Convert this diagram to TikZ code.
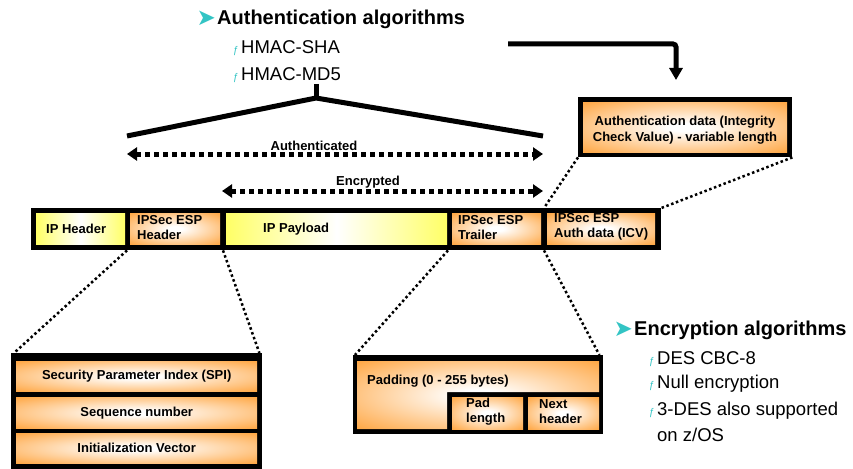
\documentclass[tikz,border=0pt]{standalone}
\usepackage{fontspec}
\setmainfont{Liberation Sans}
\newfontfamily\dejavu{DejaVu Sans}
\usetikzlibrary{arrows.meta,calc}
\definecolor{orng}{HTML}{FFA035}
\definecolor{yllw}{HTML}{FFFF66}
\definecolor{tealb}{HTML}{33C4C4}
\pgfdeclareradialshading{glowO}{\pgfpointorigin}{color(0bp)=(white); color(4bp)=(white); color(38bp)=(orng); color(75bp)=(orng)}
\begin{document}
\begin{tikzpicture}[x=1pt,y=-1pt,
  blk/.style={fill=black, inner sep=0pt, anchor=north west},
  cellY/.style={inner sep=0pt, anchor=north west, left color=yllw, right color=yllw, middle color=white},
  cellO/.style={inner sep=0pt, anchor=north west, shade, shading=glowO},
  lbl/.style={font=\fontsize{13}{15}\selectfont\bfseries, align=left, inner sep=0pt},
  clbl/.style={font=\fontsize{13}{16}\selectfont\bfseries, align=center, inner sep=0pt},
  head/.style={font=\fontsize{20}{24}\selectfont\bfseries, inner sep=0pt, anchor=west},
  sub/.style={font=\fontsize{18.5}{24}\selectfont, inner sep=0pt, anchor=west, align=left},
  arrb/.style={font=\dejavu\fontsize{23}{23}\selectfont, text=tealb, inner sep=0pt, anchor=east},
  fbul/.style={font=\fontsize{10}{10}\selectfont, text=tealb, inner sep=0pt, anchor=base east},
  dotline/.style={line width=2.5pt, dash pattern=on 2.5pt off 2.6pt},
  dasharrow/.style={line width=5pt, dash pattern=on 5pt off 4pt, {Triangle[length=10pt,width=13pt]}-{Triangle[length=10pt,width=13pt]}},
  heavy/.style={line width=5pt}
]
\useasboundingbox (0,0) rectangle (853,468);

% ---------- top texts ----------
\node[head] (authalg) at (217,19) {Authentication algorithms};
\node[arrb] (b1) at ([xshift=-1pt,yshift=0.5pt]authalg.west) {➤};
\node[sub] (hm1) at (241,47) {HMAC-SHA};
\node[sub] (hm2) at (241,74) {HMAC-MD5};
\node[fbul] (f1) at ([xshift=-2pt]hm1.base west) {ƒ};
\node[fbul] (f2) at ([xshift=-2pt]hm2.base west) {ƒ};

% bracket
\draw[heavy, line join=round] (316,84) -- (316,98);
\draw[heavy, line join=round] (127,136) -- (316,98) -- (543,136);

% dashed arrows
\coordinate (a1) at (127,154); \coordinate (a2) at (543,154);
\coordinate (e1) at (222,191); \coordinate (e2) at (543,191);
\draw[dasharrow] (a1) -- (a2);
\draw[dasharrow] (e1) -- (e2);
\node[lbl] (authl) at (314,146) {Authenticated};
\node[lbl] (encl) at (368,182) {Encrypted};

% ---------- auth data box ----------
\node[blk, minimum width=214pt, minimum height=60pt] (authbox) at (578,97) {};
\node[cellO, minimum width=204pt, minimum height=50pt] (authin) at (583,102) {};
\node[clbl] (authtxt) at (685,130) {Authentication data (Integrity\\Check Value) - variable length};

% top arrow
\coordinate (ts) at (508,44);
\coordinate (te) at (676,80);
\draw[heavy, rounded corners=3pt, -{Triangle[length=12pt,width=13pt]}] (ts) -| (te);

% ---------- packet ----------
\node[blk, minimum width=630pt, minimum height=42pt] (pkt) at (31,208) {};
\node[cellY, minimum width=89pt, minimum height=31pt] (iph) at (36,213) {};
\node[cellO, minimum width=90pt, minimum height=31pt] (esph) at (130,213) {};
\node[cellY, minimum width=221pt, minimum height=31pt] (pay) at (226,213) {};
\node[cellO, minimum width=89pt, minimum height=31pt] (trl) at (452,213) {};
\node[cellO, minimum width=108pt, minimum height=31pt] (icv) at (547,213) {};

\node[lbl, anchor=west] at ([xshift=10pt]iph.west) {IP Header};
\node[lbl, anchor=west] at ([xshift=7pt,yshift=1.5pt]esph.west) {IPSec ESP\\Header};
\node[lbl, anchor=west] at ([xshift=37pt]pay.west) {IP Payload};
\node[lbl, anchor=west] at ([xshift=6pt,yshift=1.5pt]trl.west) {IPSec ESP\\Trailer};
\node[lbl, anchor=west] at ([xshift=7pt,yshift=1.5pt]icv.west) {IPSec ESP\\Auth data (ICV)};

% ---------- SPI box ----------
\node[blk, minimum width=251pt, minimum height=120pt] (spi) at (11,353) {};
\node[cellO, minimum width=241pt, minimum height=30pt] (r1) at (16,361) {};
\node[cellO, minimum width=241pt, minimum height=31pt] (r2) at (16,397) {};
\node[cellO, minimum width=241pt, minimum height=30pt] (r3) at (16,433) {};
\node[clbl] at (r1.center) {Security Parameter Index (SPI)};
\node[clbl] at (r2.center) {Sequence number};
\node[clbl] at (r3.center) {Initialization Vector};

% ---------- padding box ----------
\node[blk, minimum width=250pt, minimum height=79pt] (padbox) at (353,355) {};
\shade[shading=glowO] (357,361) -- (599,361) -- (599,392) -- (447,392) -- (447,429) -- (357,429) -- cycle;
\node[cellO, minimum width=71pt, minimum height=32pt] (padl) at (452,397) {};
\node[cellO, minimum width=71pt, minimum height=32pt] (nxth) at (528,397) {};
\node[lbl, anchor=west] at (367,381) {Padding (0 - 255 bytes)};
\node[lbl, anchor=west] at ([xshift=14pt,yshift=1.5pt]padl.west) {Pad\\length};
\node[lbl, anchor=west] at ([xshift=11pt,yshift=1.5pt]nxth.west) {Next\\header};

% ---------- dotted connectors ----------
\draw[dotline] ([xshift=-3pt]esph.south west |- pkt.south) -- ([xshift=3pt]spi.north west);
\draw[dotline] ([xshift=-3pt]pay.south west |- pkt.south) -- ([xshift=-3pt]spi.north east);
\draw[dotline] ([xshift=-4pt]trl.south west |- pkt.south) -- ([xshift=2pt]padbox.north west);
\draw[dotline] ([xshift=-3pt]icv.south west |- pkt.south) -- ([xshift=-4pt]padbox.north east);
\draw[dotline] (authbox.south west) -- ([xshift=-3pt]icv.north west |- pkt.north);
\draw[dotline] (authbox.south east) -- (pkt.north east);

% ---------- encryption algorithms ----------
\node[head] (encalg) at (634,330) {Encryption algorithms};
\node[arrb] (b2) at ([xshift=-1pt,yshift=0.5pt]encalg.west) {➤};
\node[sub] (en1) at (657,358) {DES CBC-8};
\node[sub] (en2) at (657,384) {Null encryption};
\node[sub] (en3) at (657,411) {3-DES also supported};
\node[sub] (en4) at (657,435) {on z/OS};
\node[fbul] at ([xshift=-2pt]en1.base west) {ƒ};
\node[fbul] at ([xshift=-2pt]en2.base west) {ƒ};
\node[fbul] at ([xshift=-2pt]en3.base west) {ƒ};
\end{tikzpicture}
\end{document}
